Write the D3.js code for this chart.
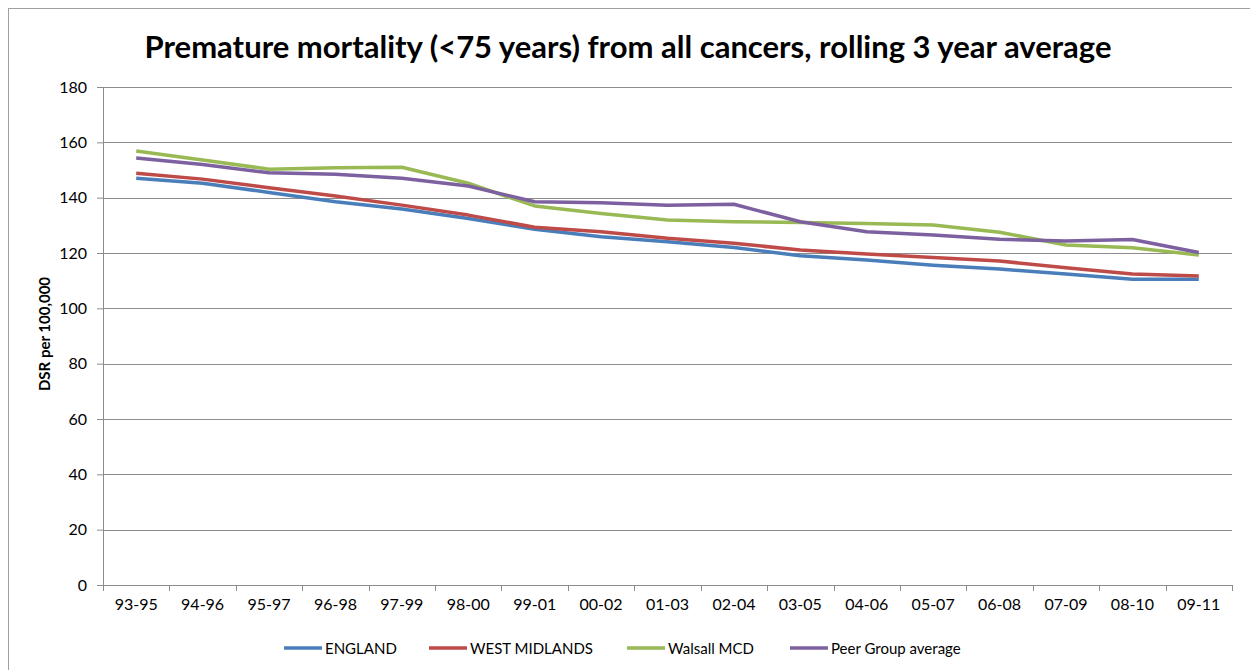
<!DOCTYPE html>
<html>
<head>
<meta charset="utf-8">
<script src="https://cdn.jsdelivr.net/npm/d3@7"></script>
<style>
  body { margin: 0; background: #fff; }
  svg { display: block; font-family: Lato, "Open Sans", sans-serif; }
</style>
</head>
<body>
<svg id="chart" width="1250" height="670"></svg>
<script>
const periods = ["93-95", "94-96", "95-97", "96-98", "97-99", "98-00", "99-01", "00-02", "01-03",
  "02-04", "03-05", "04-06", "05-07", "06-08", "07-09", "08-10", "09-11"];

const england = [147, 145.2, 141.9, 138.5, 135.9, 132.5, 128.6, 125.9, 124.1, 122, 119, 117.5, 115.6, 114.2, 112.4, 110.5, 110.5];
const westMidlands = [148.8, 146.7, 143.6, 140.6, 137.3, 133.7, 129.3, 127.7, 125.3, 123.5, 121.1, 119.6, 118.4, 117.1, 114.7, 112.4, 111.7];
const walsall = [156.9, 153.6, 150.3, 150.8, 151, 145.2, 137, 134.3, 131.9, 131.3, 131, 130.7, 130.1, 127.5, 122.9, 121.9, 119.3];
const peerGroup = [154.3, 152, 149, 148.5, 147, 144.2, 138.5, 138.2, 137.3, 137.6, 131.3, 127.7, 126.5, 125, 124.3, 124.9, 120.2];

const seriesNames = ["ENGLAND", "WEST MIDLANDS", "Walsall MCD", "Peer Group average"];
const seriesColors = ["#4a7ebb", "#be4b48", "#98b954", "#7d60a0"];
const yTicks = [0, 20, 40, 60, 80, 100, 120, 140, 160, 180];

const series = [england, westMidlands, walsall, peerGroup].map((values, i) => ({
  name: seriesNames[i],
  color: seriesColors[i],
  values: values.map((v, j) => ({ period: periods[j], value: v }))
}));

const svg = d3.select("#chart");
const margin = { top: 87, right: 18, bottom: 85, left: 103 };
const width = 1250 - margin.left - margin.right;
const height = 670 - margin.top - margin.bottom;

// outer chart frame (only top and left edges are visible)
svg.append("rect")
  .attr("x", 8.5).attr("y", 8.5)
  .attr("width", 1260).attr("height", 680)
  .attr("fill", "none")
  .attr("stroke", "#a0a0a0");

svg.append("text")
  .attr("x", 628)
  .attr("y", 58)
  .attr("text-anchor", "middle")
  .attr("font-size", 31)
  .attr("font-weight", "bold")
  .attr("fill", "#000")
  .text("Premature mortality (<75 years) from all cancers, rolling 3 year average");

const g = svg.append("g").attr("transform", `translate(${margin.left},${margin.top})`);

const x = d3.scaleBand().domain(periods).range([0, width]);
const y = d3.scaleLinear().domain([0, 180]).range([height, 0]);

// gridlines
g.append("g")
  .selectAll("line")
  .data(yTicks.filter(d => d > 0))
  .join("line")
  .attr("x1", 0)
  .attr("x2", width)
  .attr("y1", d => Math.round(y(d)) + 0.5)
  .attr("y2", d => Math.round(y(d)) + 0.5)
  .attr("stroke", "#8c8c8c")
  .attr("stroke-width", 1);

// y axis
const yAxis = g.append("g")
  .call(d3.axisLeft(y).tickValues(yTicks).tickSize(6).tickPadding(10));
yAxis.select(".domain").attr("stroke", "#8c8c8c");
yAxis.selectAll(".tick line").attr("stroke", "#8c8c8c");
yAxis.selectAll(".tick text").attr("font-size", 16).attr("fill", "#000")
  .attr("font-family", "Lato, sans-serif");

// x axis with ticks at category boundaries
const xAxis = g.append("g")
  .attr("transform", `translate(0,${height})`)
  .call(d3.axisBottom(x).tickSize(0).tickPadding(14));
xAxis.select(".domain").attr("stroke", "#8c8c8c");
xAxis.selectAll(".tick text").attr("font-size", 16).attr("fill", "#000")
  .attr("font-family", "Lato, sans-serif");

g.append("g")
  .selectAll("line")
  .data(periods.map(p => x(p)).concat([width]))
  .join("line")
  .attr("x1", d => Math.round(d) + 0.5)
  .attr("x2", d => Math.round(d) + 0.5)
  .attr("y1", height)
  .attr("y2", height + 6)
  .attr("stroke", "#8c8c8c");

// y axis title
g.append("text")
  .attr("transform", "rotate(-90)")
  .attr("x", -247)
  .attr("y", -53)
  .attr("text-anchor", "middle")
  .attr("font-size", 15)
  .attr("font-weight", "bold")
  .text("DSR per 100,000");

const line = d3.line()
  .x(d => x(d.period) + x.bandwidth() / 2)
  .y(d => y(d.value));

g.append("g")
  .selectAll("path")
  .data(series)
  .join("path")
  .attr("fill", "none")
  .attr("stroke", d => d.color)
  .attr("stroke-width", 3.5)
  .attr("stroke-linejoin", "round")
  .attr("d", d => line(d.values));

// legend
const legendX = [284, 429, 627, 790];
const legend = svg.append("g").attr("transform", "translate(0,648)");
series.forEach((s, i) => {
  legend.append("line")
    .attr("x1", legendX[i])
    .attr("x2", legendX[i] + 38)
    .attr("y1", 0)
    .attr("y2", 0)
    .attr("stroke", s.color)
    .attr("stroke-width", 3.5);
  legend.append("text")
    .attr("x", legendX[i] + 41)
    .attr("y", 5.5)
    .attr("font-size", 15)
    .attr("fill", "#000")
    .text(s.name);
});
</script>
</body>
</html>
